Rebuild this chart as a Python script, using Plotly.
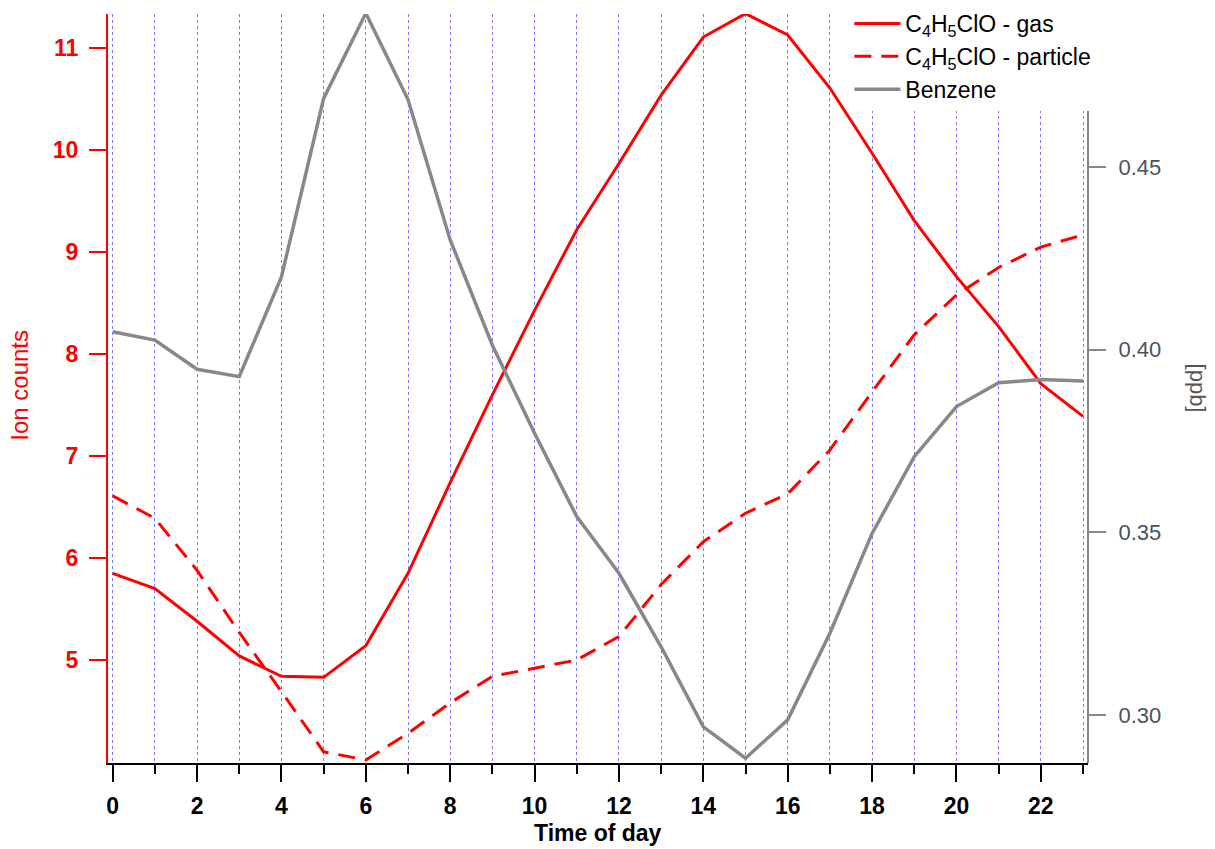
import plotly.graph_objects as go

hours = list(range(24))
gas = [5.85, 5.70, 5.38, 5.04, 4.84, 4.83, 5.14, 5.85, 6.74, 7.60, 8.43, 9.22,
       9.87, 10.54, 11.11, 11.34, 11.13, 10.61, 9.97, 9.31, 8.76, 8.27, 7.71, 7.39]
particle = [6.61, 6.39, 5.88, 5.27, 4.69, 4.10, 4.02, 4.28, 4.58, 4.84, 4.92, 5.00,
            5.23, 5.74, 6.16, 6.44, 6.63, 7.06, 7.63, 8.19, 8.58, 8.85, 9.05, 9.17]
benzene = [0.4049, 0.4026, 0.3946, 0.3926, 0.4199, 0.4687, 0.4920, 0.4684, 0.4300,
           0.4012, 0.3771, 0.3543, 0.3388, 0.3187, 0.2968, 0.2882, 0.2987, 0.3224,
           0.3497, 0.3707, 0.3844, 0.3909, 0.3918, 0.3914]

left_ticks = [5, 6, 7, 8, 9, 10, 11]
right_ticks = [0.30, 0.35, 0.40, 0.45]
right_labels = ["0.30", "0.35", "0.40", "0.45"]
x_ticks = list(range(0, 24, 2))

FONT = "Liberation Sans, Arial, sans-serif"
RED = "#ff0000"
GRAY = "#888888"
GRID = "#7a7aff"

fig = go.Figure()
fig.add_trace(go.Scatter(x=hours, y=gas, mode="lines", name="C<sub>4</sub>H<sub>5</sub>ClO - gas",
                         line=dict(color=RED, width=3)))
fig.add_trace(go.Scatter(x=hours, y=particle, mode="lines", name="C<sub>4</sub>H<sub>5</sub>ClO - particle",
                         line=dict(color=RED, width=3, dash="17px,10px")))
fig.add_trace(go.Scatter(x=hours, y=benzene, mode="lines", name="Benzene", yaxis="y2",
                         line=dict(color=GRAY, width=3.5)))

fig.update_layout(
    width=1215, height=849,
    margin=dict(l=108, r=127, t=14, b=86, autoexpand=False),
    paper_bgcolor="white", plot_bgcolor="white",
    font=dict(family=FONT, size=23, color="black"),
    showlegend=True,
    legend=dict(x=0.7565, y=1.016, xanchor="left", yanchor="top", bgcolor="white",
                borderwidth=0, font=dict(size=23, color="black"), tracegroupgap=0,
                itemwidth=46),
    xaxis=dict(range=[-0.111, 23.118], tickmode="array", tickvals=x_ticks,
               ticks="outside", ticklen=17, tickwidth=2, tickcolor="black",
               showline=True, linecolor="black", linewidth=2,
               showgrid=False, zeroline=False,
               tickfont=dict(size=23, color="black", weight="bold"),
               ticklabelstandoff=4,
               minor=dict(dtick=1, tick0=0, ticks="outside", ticklen=9, tickwidth=2,
                          tickcolor="black", showgrid=True, gridcolor=GRID,
                          gridwidth=1, griddash="dot")),
    yaxis=dict(range=[3.99, 11.336], tickmode="array", tickvals=left_ticks,
               ticks="outside", ticklen=17, tickwidth=2, tickcolor=RED,
               showline=True, linecolor=RED, linewidth=2,
               showgrid=False, zeroline=False,
               tickfont=dict(size=23, color=RED, weight="bold"),
               ticklabelstandoff=6),
    yaxis2=dict(overlaying="y", side="right", range=[0.2869, 0.4918],
                tickmode="array", tickvals=right_ticks, ticktext=right_labels,
                ticks="outside", ticklen=17, tickwidth=2, tickcolor=GRAY,
                showline=False, showgrid=False, zeroline=False,
                tickfont=dict(size=22, color="#4a5262"),
                ticklabelstandoff=8),
)

# right axis line (covers only the lower part of the plot)
fig.add_shape(type="line", xref="paper", yref="y2", x0=1, x1=1, y0=0.2869, y1=0.4682,
              line=dict(color=GRAY, width=2), layer="above")

fig.add_annotation(text="Ion counts", xref="paper", yref="paper", x=-0.0898, y=0.505,
                   xanchor="center", yanchor="middle", textangle=-90, showarrow=False,
                   font=dict(size=24, color=RED))
fig.add_annotation(text="[ppb]", xref="paper", yref="paper", x=1.1122, y=0.50,
                   xanchor="center", yanchor="middle", textangle=90, showarrow=False,
                   font=dict(size=22, color="#555555"))
fig.add_annotation(text="<b>Time of day</b>", xref="paper", yref="paper", x=0.5, y=-0.0935,
                   xanchor="center", yanchor="middle", showarrow=False,
                   font=dict(size=23, color="black"))

fig.write_html("out.html",
               config={"displayModeBar": False},
               post_script="document.body.style.margin='0';document.body.style.overflow='hidden';")
